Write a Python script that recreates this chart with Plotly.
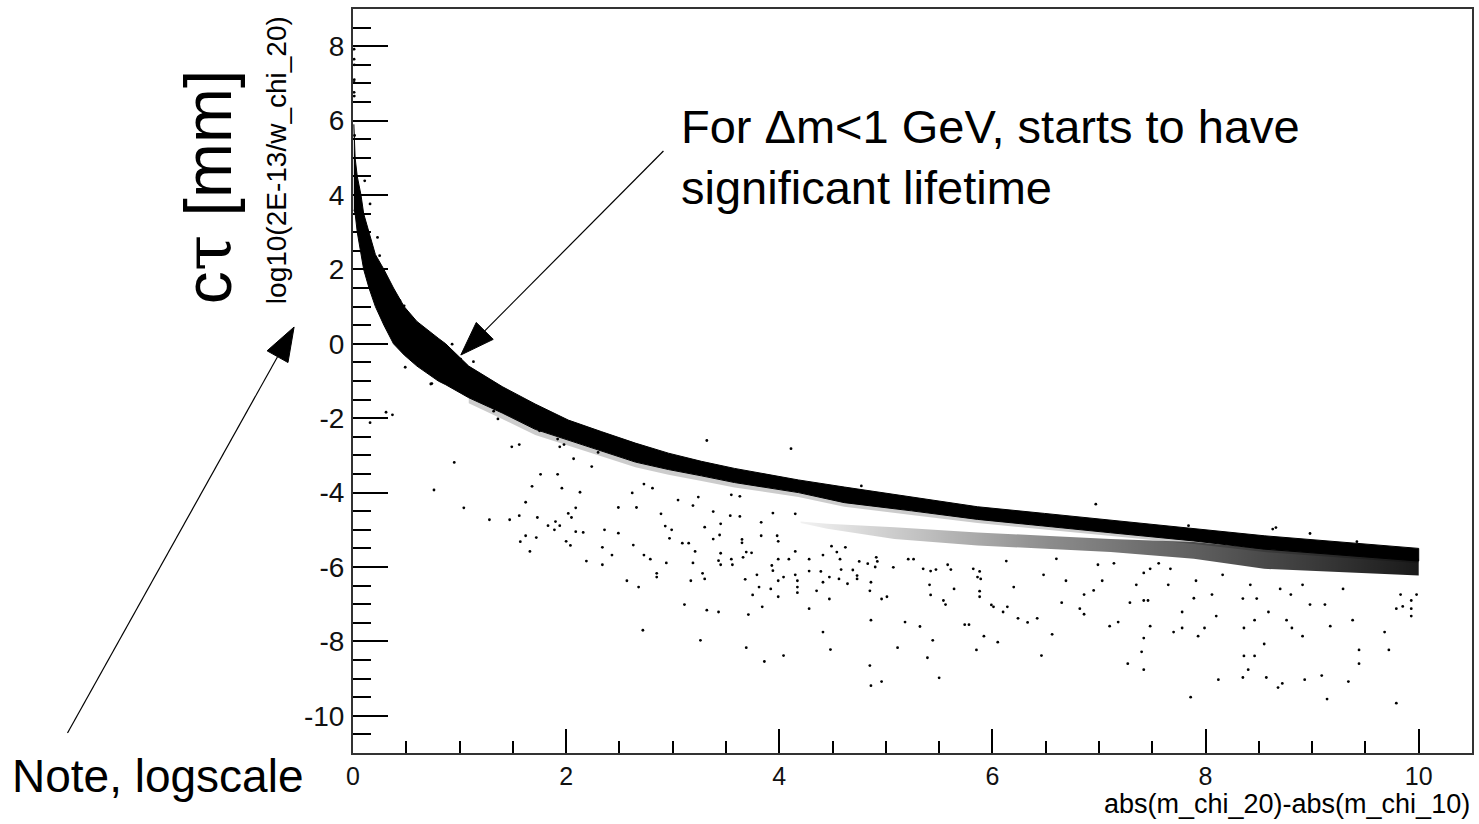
import plotly.graph_objects as go

# ---------------- data ----------------
# main dense band: x, upper edge, lower edge
band_x = [0.008, 0.02, 0.04, 0.075, 0.10, 0.15, 0.21, 0.29, 0.38, 0.48, 0.60, 0.80, 0.87,
          1.086, 1.40, 1.71, 2.02, 2.33, 2.65, 2.96, 3.27, 3.58, 3.90, 4.18, 4.61, 5.24,
          5.86, 6.49, 7.11, 7.89, 8.55, 10.0]
band_top = [5.9, 5.0, 4.5, 4.0, 3.5, 3.0, 2.4, 2.0, 1.5, 1.0, 0.6, 0.15, 0.0,
            -0.6, -1.15, -1.62, -2.05, -2.36, -2.67, -2.94, -3.16, -3.35, -3.52, -3.66,
            -3.85, -4.12, -4.38, -4.56, -4.74, -4.97, -5.16, -5.50]
band_bottom = [3.6, 3.5, 3.0, 2.4, 2.0, 1.5, 1.0, 0.5, 0.0, -0.3, -0.6, -1.0, -1.1,
               -1.45, -1.86, -2.30, -2.58, -2.88, -3.18, -3.38, -3.55, -3.73, -3.87, -4.00,
               -4.27, -4.49, -4.72, -4.91, -5.08, -5.30, -5.52, -5.84]

# speckled fringe just below the main band (from x = 1.086 on)
fringe_low = [-1.6, -2.02, -2.45, -2.74, -3.03, -3.32, -3.52, -3.69, -3.86, -4.0, -4.12,
              -4.38, -4.6, -4.82, -5.0, -5.16, -5.38, -5.6, -5.9]

# secondary lower band
lb_x = [4.2, 4.45, 5.08, 5.86, 6.49, 7.11, 7.89, 8.55, 10.0]
lb_top = [-4.78, -4.84, -4.93, -5.07, -5.16, -5.25, -5.33, -5.51, -5.78]
lb_bottom = [-4.82, -4.97, -5.25, -5.42, -5.51, -5.60, -5.78, -6.05, -6.23]

# isolated points
pts_x = [0.01, 0.01, 0.012, 0.012, 0.01, 0.01, 0.012, 0.015, 0.11, 0.16, 0.23, 0.25, 0.44, 0.48,
         0.93, 1.01, 1.13, 0.49, 0.73, 0.74, 0.31, 0.37, 0.16, 0.95, 0.76, 1.04, 1.28,
         1.32, 1.36, 1.47, 1.56, 1.49, 1.56, 1.62, 1.68, 1.76, 1.92, 1.96, 1.73, 1.83, 1.90,
         1.89, 1.94, 1.62, 1.72, 1.57, 1.66, 2.02, 2.05, 2.09, 2.13, 2.07, 2.24, 2.30, 2.09,
         2.16, 2.00, 2.04, 2.19, 1.75, 1.92, 1.94, 1.98,
         3.32, 4.11, 4.77, 2.73, 2.81, 2.62, 2.49, 2.66, 2.89, 3.05, 3.19, 3.24, 2.36, 2.49,
         2.34, 2.63, 2.43, 2.34, 2.73, 2.79, 2.94, 2.85, 2.85, 2.57, 2.68, 2.93, 2.99, 2.97,
         3.09, 3.15, 3.21, 3.19, 3.17, 3.28, 3.30, 3.11, 3.32, 3.43, 2.72, 3.26, 3.38, 3.30,
         3.45, 3.38, 3.44, 3.45, 3.43, 3.45, 3.55, 3.56, 3.65, 3.65, 3.69, 3.74, 3.66, 3.54,
         3.63, 3.63, 3.55, 3.83, 3.83, 3.94, 3.98, 3.99, 3.93, 3.94, 3.99, 3.79, 3.68, 3.81,
         3.75, 3.84, 3.71, 3.92, 3.99, 3.99, 4.04, 4.09, 4.15, 4.15, 4.15, 4.17, 4.17, 4.17,
         4.28, 4.28, 4.28, 4.35, 4.39, 4.41, 4.41, 4.47, 4.47, 4.49, 4.54, 4.57, 4.56, 4.58,
         4.62, 4.64, 4.69, 4.73, 4.73, 4.75, 4.83, 4.86, 4.85, 4.91, 4.92, 4.90, 4.96, 5.01,
         4.86, 4.41, 4.48, 3.69, 3.86, 4.04, 4.85, 4.86, 4.96, 5.07, 5.18, 5.21, 5.26, 5.32,
         5.35, 5.42, 5.47, 5.41, 5.42, 5.54, 5.56, 5.44, 5.39, 5.11, 5.50, 5.58, 5.61, 5.64,
         5.82, 5.86, 5.88, 5.89, 5.88, 5.88, 5.74, 5.78, 5.92, 5.85, 6.05, 5.99, 6.01, 6.14,
         6.10, 6.13, 6.20, 6.24, 6.33, 6.42, 6.46, 6.48,
         6.97, 6.56, 6.60, 6.65, 6.69, 6.82, 6.86, 6.86, 6.95, 6.99, 7.03, 7.10, 7.18, 7.14,
         7.27, 7.29, 7.35, 7.42, 7.42, 7.46, 7.42, 7.40, 7.42, 7.48, 7.48, 7.56, 7.67, 7.65,
         7.70, 7.78, 7.78, 7.86, 7.84, 7.89, 7.91, 7.93, 7.99, 8.06, 8.10, 8.12, 8.16, 8.35,
         8.35, 8.36, 8.36, 8.40, 8.42, 8.46, 8.46, 8.48, 8.55, 8.57, 8.59, 8.63, 8.66, 8.68,
         8.72, 8.70, 8.76, 8.80, 8.81, 8.91, 8.91, 8.93, 8.98, 8.98, 9.09, 9.12, 9.14, 9.17,
         9.29, 9.34, 9.38, 9.44, 9.44, 9.42, 9.68, 9.72, 9.79, 9.79, 9.83, 9.85, 9.93, 9.93,
         9.93, 9.98]
pts_y = [7.92, 7.65, 7.5, 7.1, 7.03, 6.76, 6.66, 5.6, 4.38, 3.76, 2.86, 2.37, 1.16, 1.02,
         -0.01, -0.41, -0.48, -0.63, -1.08, -1.07, -1.84, -1.91, -2.12, -3.19, -3.93, -4.41, -4.73,
         -1.81, -2.02, -4.73, -4.62, -2.77, -2.71, -4.26, -3.83, -3.51, -3.51, -3.88, -4.67, -4.89,
         -4.78, -5.0, -4.89, -5.16, -5.21, -5.32, -5.58, -4.56, -4.67, -4.41, -3.99, -3.09, -3.30,
         -2.92, -5.05, -5.07, -5.31, -5.42, -5.84, -2.34, -2.56, -2.77, -2.71,
         -2.60, -2.82, -3.82, -3.77, -3.88, -4.01, -4.40, -4.40, -4.57, -4.20, -4.35, -4.12, -5.0,
         -5.09, -5.47, -5.41, -5.68, -5.94, -5.68, -5.79, -5.89, -6.17, -6.27, -6.37, -6.54, -4.90,
         -5.0, -5.23, -5.36, -5.36, -5.58, -5.89, -6.37, -6.17, -6.32, -7.01, -7.16, -7.21, -7.70,
         -7.97, -4.51, -4.93, -4.84, -5.25, -5.14, -5.63, -5.83, -5.94, -5.79, -5.94, -5.26, -5.35,
         -5.60, -5.62, -5.74, -4.62, -4.64, -4.10, -4.06, -4.80, -5.16, -4.55, -5.16, -5.31, -5.96,
         -6.10, -5.79, -6.21, -6.33, -6.54, -6.75, -7.07, -7.28, -6.59, -6.37, -6.80, -6.27, -5.79,
         -4.57, -5.58, -6.21, -6.37, -6.54, -6.69, -5.79, -6.11, -7.12, -6.64, -6.12, -5.68, -6.41,
         -6.27, -6.86, -5.44, -5.60, -5.79, -6.32, -6.07, -5.47, -6.45, -6.08, -6.23, -6.32, -5.85,
         -5.91, -6.41, -6.64, -5.74, -5.85, -6.00, -6.86, -6.80, -7.43, -7.75, -8.22, -8.17, -8.54,
         -8.38, -8.65, -9.19, -9.08, -6.01, -7.48, -5.79, -5.79, -7.60, -6.05, -6.11, -6.07, -6.48,
         -6.75, -6.90, -7.01, -7.97, -8.44, -8.17, -8.98, -5.94, -6.07, -6.59, -6.05, -6.27, -6.12,
         -6.32, -6.65, -6.80, -7.55, -7.55, -7.86, -8.23, -8.02, -7.02, -7.07, -7.07, -7.21, -5.84,
         -6.54, -7.38, -7.49, -7.38, -8.38, -6.21,
         -4.31, -7.81, -5.78, -6.96, -6.37, -7.12, -7.27, -6.74, -6.63, -5.94, -6.37, -7.59, -7.48,
         -5.90, -8.60, -6.96, -6.48, -6.16, -6.90, -6.90, -7.91, -8.28, -8.76, -7.59, -6.05, -5.90,
         -6.05, -6.48, -7.75, -7.21, -7.64, -9.50, -4.89, -6.84, -6.37, -7.86, -7.64, -6.74, -7.32,
         -9.03, -6.21, -6.85, -8.97, -7.64, -8.39, -8.76, -6.48, -7.43, -8.39, -6.85, -8.07, -8.97,
         -7.21, -4.98, -4.94, -9.24, -9.13, -6.59, -7.43, -6.74, -7.64, -6.48, -7.86, -9.03, -7.01,
         -5.10, -8.92, -7.01, -9.55, -7.59, -6.59, -9.08, -7.43, -8.23, -8.60, -5.32, -7.75, -8.23,
         -7.12, -9.66, -6.74, -7.06, -6.90, -7.12, -7.32, -6.74]

x_ticks = [0, 2, 4, 6, 8, 10]
y_ticks = [-10, -8, -6, -4, -2, 0, 2, 4, 6, 8]

x_title = "abs(m_chi_20)-abs(m_chi_10)"
y_title = "log10(2E-13/w_chi_20)"

# ---------------- geometry helpers for annotations ----------------
PL, PR, PT, PB = 353, 1474, 9, 753


def px2paper(px, py):
    return (px - PL) / (PR - PL), (PB - py) / (PB - PT)


FONT = "Liberation Sans, Arial, Helvetica, sans-serif"

fig = go.Figure()

# fringe below main band
fx = band_x[13:]
ftop = band_bottom[13:]
fig.add_trace(go.Scatter(
    x=fx + fx[::-1], y=ftop + fringe_low[::-1], mode="lines", fill="toself",
    fillcolor="rgba(0,0,0,0.2)", line=dict(width=0), hoverinfo="skip"))

# lower band
fig.add_trace(go.Scatter(
    x=lb_x + lb_x[::-1], y=lb_top + lb_bottom[::-1], mode="lines", fill="toself",
    fillgradient=dict(type="horizontal",
                      colorscale=[[0, "rgba(0,0,0,0.05)"], [0.4, "rgba(0,0,0,0.45)"],
                                  [1, "rgba(0,0,0,0.9)"]]),
    line=dict(width=0), hoverinfo="skip"))

# main band
fig.add_trace(go.Scatter(
    x=band_x + band_x[::-1], y=band_top + band_bottom[::-1], mode="lines", fill="toself",
    fillcolor="black", line=dict(width=1, color="black"), hoverinfo="skip"))

# isolated points
fig.add_trace(go.Scatter(
    x=pts_x, y=pts_y, mode="markers",
    marker=dict(size=2.8, color="black", line=dict(width=0)), hoverinfo="skip"))

# ---------------- arrows (shapes) ----------------
shapes = []


def arrow(tail, tip, head_len=34, head_w=24):
    tx, ty = tail
    hx, hy = tip
    dx, dy = hx - tx, hy - ty
    L = (dx * dx + dy * dy) ** 0.5
    ux, uy = dx / L, dy / L
    bx, by = hx - ux * head_len, hy - uy * head_len
    nx, ny = -uy, ux
    p1 = px2paper(tx, ty)
    p2 = px2paper(bx, by)
    shapes.append(dict(type="line", xref="paper", yref="paper",
                       x0=p1[0], y0=p1[1], x1=p2[0], y1=p2[1],
                       line=dict(color="black", width=1.2)))
    a = px2paper(hx, hy)
    b = px2paper(bx + nx * head_w / 2, by + ny * head_w / 2)
    c = px2paper(bx - nx * head_w / 2, by - ny * head_w / 2)
    path = f"M {a[0]},{a[1]} L {b[0]},{b[1]} L {c[0]},{c[1]} Z"
    shapes.append(dict(type="path", xref="paper", yref="paper", path=path,
                       fillcolor="black", line=dict(color="black", width=1)))


arrow((664, 151), (461, 355))
arrow((67, 733), (294, 327))

annotations = []


def ann(text, px, py, size, xanchor="center", yanchor="middle", angle=0, align="left"):
    x, y = px2paper(px, py)
    annotations.append(dict(text=text, x=x, y=y, xref="paper", yref="paper",
                            xanchor=xanchor, yanchor=yanchor, showarrow=False,
                            textangle=angle, align=align,
                            font=dict(family=FONT, size=size, color="black")))


ann(x_title, 1474, 804, 27, xanchor="right")
ann(y_title, 276, 160, 28, angle=-90)
ann("c<span style='font-family:DejaVu Serif'>τ</span> [mm]", 208, 187, 66, angle=-90)
ann("Note, logscale", 9, 776, 46, xanchor="left")
ann("For Δm<1 GeV, starts to have<br>significant lifetime", 680, 157, 47, xanchor="left")

fig.update_layout(
    width=1479, height=824,
    margin=dict(l=PL, r=1479 - PR, t=PT, b=824 - PB),
    paper_bgcolor="white", plot_bgcolor="white",
    showlegend=False,
    shapes=shapes, annotations=annotations,
    xaxis=dict(range=[0, 10.5], tickmode="array", tickvals=x_ticks,
               ticktext=[str(v) for v in x_ticks],
               ticks="inside", ticklen=24, tickwidth=1.5, tickcolor="black",
               minor=dict(dtick=0.5, tick0=0, ticks="inside", ticklen=12, tickwidth=1.5,
                          tickcolor="black"),
               showline=True, mirror=True, linecolor="#333", linewidth=2,
               showgrid=False, zeroline=False,
               tickfont=dict(family=FONT, size=25, color="#111"),
               ticklabelstandoff=0),
    yaxis=dict(range=[-11, 9], tickmode="array", tickvals=y_ticks,
               ticktext=[str(v) for v in y_ticks],
               ticks="inside", ticklen=35, tickwidth=1.5, tickcolor="black",
               minor=dict(dtick=0.5, tick0=0, ticks="inside", ticklen=18, tickwidth=1.5,
                          tickcolor="black"),
               showline=True, mirror=True, linecolor="#333", linewidth=2,
               showgrid=False, zeroline=False,
               tickfont=dict(family=FONT, size=28, color="#111"),
               ticklabelstandoff=1),
)

fig.write_html("out.html")
